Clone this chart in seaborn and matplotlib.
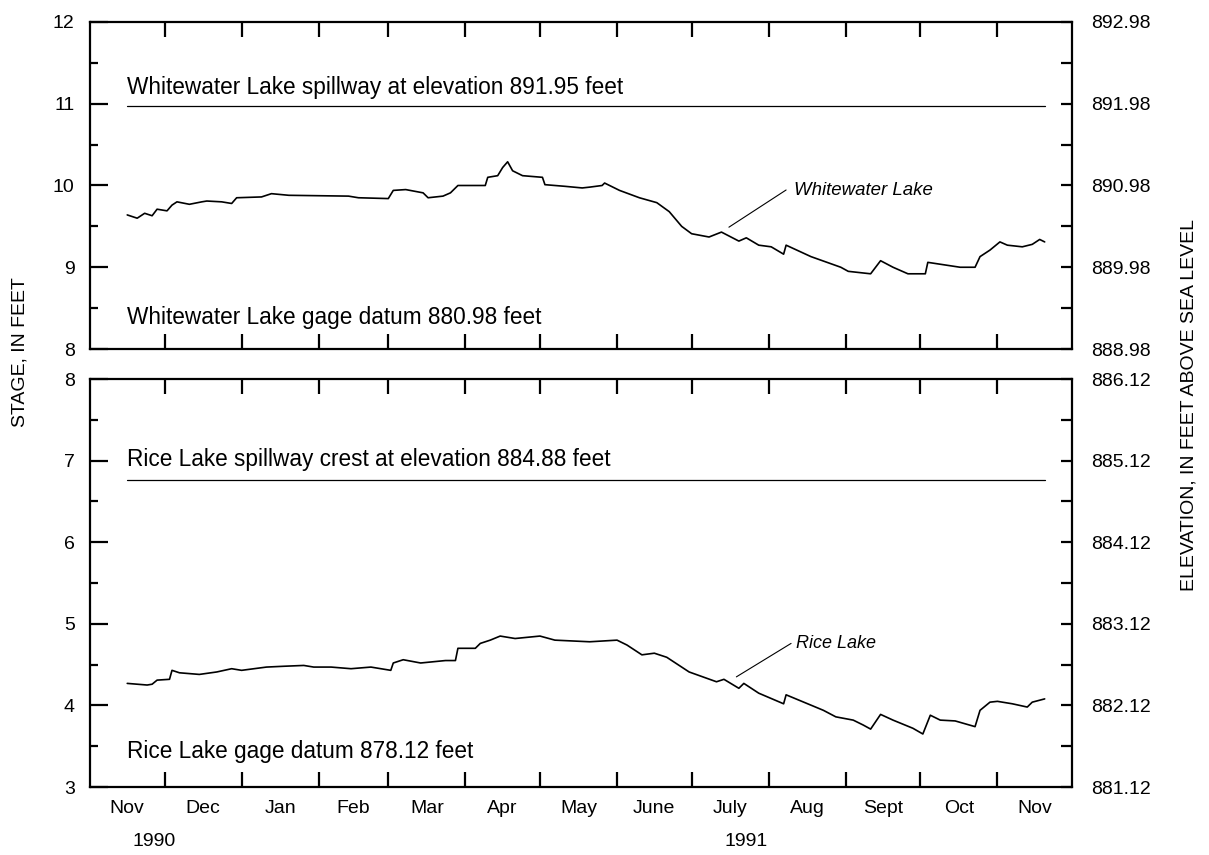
import matplotlib
matplotlib.use("Agg")
import matplotlib.pyplot as plt
import matplotlib.dates as mdates
import matplotlib.ticker as mticker
import numpy as np
import pandas as pd
import seaborn as sns

# ---------------- data ----------------
ww_dates = ["1990-11-16", "1990-11-20", "1990-11-23", "1990-11-26", "1990-11-28", "1990-12-02",
            "1990-12-04", "1990-12-06", "1990-12-11", "1990-12-16", "1990-12-18", "1990-12-24",
            "1990-12-28", "1990-12-30", "1991-01-09", "1991-01-13", "1991-01-20", "1991-02-13",
            "1991-02-17", "1991-03-01", "1991-03-03", "1991-03-08", "1991-03-15", "1991-03-17",
            "1991-03-23", "1991-03-26", "1991-03-29", "1991-04-09", "1991-04-10", "1991-04-14",
            "1991-04-16", "1991-04-18", "1991-04-20", "1991-04-24", "1991-05-02", "1991-05-03",
            "1991-05-11", "1991-05-18", "1991-05-21", "1991-05-26", "1991-05-27", "1991-06-02",
            "1991-06-10", "1991-06-17", "1991-06-22", "1991-06-27", "1991-07-01", "1991-07-08",
            "1991-07-13", "1991-07-20", "1991-07-23", "1991-07-28", "1991-08-02", "1991-08-07",
            "1991-08-08", "1991-08-18", "1991-08-30", "1991-09-02", "1991-09-11", "1991-09-15",
            "1991-09-20", "1991-09-26", "1991-10-03", "1991-10-04", "1991-10-17", "1991-10-23",
            "1991-10-25", "1991-10-29", "1991-11-02", "1991-11-05", "1991-11-11", "1991-11-15",
            "1991-11-18", "1991-11-20"]
ww_stage = [9.64, 9.60, 9.66, 9.63, 9.71, 9.69,
            9.76, 9.80, 9.77, 9.80, 9.81, 9.80,
            9.78, 9.85, 9.86, 9.90, 9.88, 9.87,
            9.85, 9.84, 9.94, 9.95, 9.91, 9.85,
            9.87, 9.91, 10.00, 10.00, 10.10, 10.12,
            10.22, 10.29, 10.18, 10.12, 10.10, 10.01,
            9.99, 9.97, 9.98, 10.00, 10.03, 9.94,
            9.85, 9.79, 9.68, 9.50, 9.41, 9.37,
            9.43, 9.32, 9.36, 9.27, 9.25, 9.16,
            9.27, 9.13, 9.00, 8.95, 8.92, 9.08,
            9.00, 8.92, 8.92, 9.06, 9.00, 9.00,
            9.13, 9.21, 9.31, 9.27, 9.25, 9.28,
            9.34, 9.31]

rice_dates = ["1990-11-16", "1990-11-24", "1990-11-26", "1990-11-28", "1990-12-03", "1990-12-04",
              "1990-12-07", "1990-12-15", "1990-12-22", "1990-12-28", "1991-01-01", "1991-01-11",
              "1991-01-18", "1991-01-26", "1991-01-30", "1991-02-06", "1991-02-14", "1991-02-22",
              "1991-03-02", "1991-03-03", "1991-03-07", "1991-03-14", "1991-03-24", "1991-03-28",
              "1991-03-29", "1991-04-05", "1991-04-07", "1991-04-11", "1991-04-15", "1991-04-21",
              "1991-05-01", "1991-05-07", "1991-05-21", "1991-06-01", "1991-06-05", "1991-06-11",
              "1991-06-16", "1991-06-21", "1991-06-30", "1991-07-11", "1991-07-14", "1991-07-20",
              "1991-07-22", "1991-07-28", "1991-08-07", "1991-08-08", "1991-08-23", "1991-08-28",
              "1991-09-04", "1991-09-08", "1991-09-11", "1991-09-15", "1991-09-20", "1991-09-28",
              "1991-10-02", "1991-10-05", "1991-10-09", "1991-10-15", "1991-10-23", "1991-10-25",
              "1991-10-29", "1991-11-01", "1991-11-07", "1991-11-13", "1991-11-15", "1991-11-20"]
rice_stage = [4.27, 4.25, 4.26, 4.31, 4.32, 4.43,
              4.40, 4.38, 4.41, 4.45, 4.43, 4.47,
              4.48, 4.49, 4.47, 4.47, 4.45, 4.47,
              4.43, 4.52, 4.56, 4.52, 4.55, 4.55,
              4.70, 4.70, 4.76, 4.80, 4.85, 4.82,
              4.85, 4.80, 4.78, 4.80, 4.74, 4.62,
              4.64, 4.59, 4.41, 4.29, 4.32, 4.21,
              4.27, 4.15, 4.02, 4.13, 3.94, 3.86,
              3.82, 3.76, 3.71, 3.89, 3.82, 3.72,
              3.65, 3.88, 3.82, 3.81, 3.74, 3.94,
              4.04, 4.05, 4.02, 3.98, 4.04, 4.08]

month_labels = ["Nov", "Dec", "Jan", "Feb", "Mar", "Apr", "May", "June",
                "July", "Aug", "Sept", "Oct", "Nov"]
year_labels = ["1990", "1991"]

ww_spillway = 10.97     # 891.95 - 880.98
ww_datum = 880.98
rice_spillway = 6.76    # 884.88 - 878.12
rice_datum = 878.12
line_start, line_end = "1990-11-16", "1991-11-20"

ww = pd.DataFrame({"date": pd.to_datetime(ww_dates), "stage": ww_stage})
rice = pd.DataFrame({"date": pd.to_datetime(rice_dates), "stage": rice_stage})

# ---------------- style ----------------
sns.set_theme(style="ticks")
plt.rcParams["font.family"] = ["Liberation Sans", "DejaVu Sans"]
plt.rcParams["axes.linewidth"] = 1.6
FS = 14
FT = 16.3

fig = plt.figure(figsize=(12.09, 8.55), dpi=100)
ax1 = fig.add_axes([0.0744, 0.5918, 0.8123, 0.3825])
ax2 = fig.add_axes([0.0744, 0.0795, 0.8123, 0.4772])

sns.lineplot(data=ww, x="date", y="stage", ax=ax1, color="black", linewidth=1.2)
sns.lineplot(data=rice, x="date", y="stage", ax=ax2, color="black", linewidth=1.2)

xmin, xmax = pd.Timestamp("1990-11-01"), pd.Timestamp("1991-12-01")
month_starts = pd.date_range("1990-11-01", "1991-12-01", freq="MS")
mids = [month_starts[i] + (month_starts[i + 1] - month_starts[i]) / 2 for i in range(len(month_starts) - 1)]

def style(ax, ylim, datum, show_labels):
    ax.set_xlim(xmin, xmax)
    ax.set_ylim(*ylim)
    ax.set_xlabel("")
    ax.set_ylabel("")
    for s in ax.spines.values():
        s.set_visible(True)
        s.set_color("black")
        s.set_linewidth(1.6)
    ax.xaxis.set_major_locator(mticker.FixedLocator(mdates.date2num(month_starts[1:-1])))
    ax.xaxis.set_major_formatter(mticker.NullFormatter())
    ax.xaxis.set_minor_locator(mticker.FixedLocator(mdates.date2num(mids)))
    if show_labels:
        ax.xaxis.set_minor_formatter(mticker.FixedFormatter(month_labels))
    else:
        ax.xaxis.set_minor_formatter(mticker.NullFormatter())
    ax.tick_params(axis="x", which="major", direction="in", length=11, width=1.6,
                   top=True, bottom=True, color="black")
    ax.tick_params(axis="x", which="minor", length=0, labelsize=FS, pad=9, colors="black")
    ax.yaxis.set_major_locator(mticker.MultipleLocator(1))
    ax.yaxis.set_minor_locator(mticker.MultipleLocator(0.5))
    ax.tick_params(axis="y", which="major", direction="in", length=13, width=1.6,
                   labelsize=FS, pad=11, color="black", labelcolor="black")
    ax.tick_params(axis="y", which="minor", direction="in", length=6, width=1.6, color="black")
    ax.grid(False)
    # right elevation axis
    axr = ax.twinx()
    axr.set_ylim(ylim[0] + datum, ylim[1] + datum)
    axr.yaxis.set_major_locator(mticker.FixedLocator(np.arange(ylim[0], ylim[1] + 0.01, 1) + datum))
    axr.yaxis.set_major_formatter(mticker.FormatStrFormatter("%.2f"))
    axr.yaxis.set_minor_locator(mticker.FixedLocator(np.arange(ylim[0] + 0.5, ylim[1], 1) + datum))
    axr.tick_params(axis="y", which="major", direction="in", length=8, width=1.6,
                    labelsize=FS, pad=14, color="black", labelcolor="black")
    axr.tick_params(axis="y", which="minor", direction="in", length=8, width=1.6, color="black")
    for s in axr.spines.values():
        s.set_visible(False)
    axr.grid(False)
    return axr

style(ax1, (8, 12), ww_datum, False)
style(ax2, (3, 8), rice_datum, True)

# spillway lines
ax1.plot(pd.to_datetime([line_start, line_end]), [ww_spillway, ww_spillway], color="black", lw=0.9)
ax2.plot(pd.to_datetime([line_start, line_end]), [rice_spillway, rice_spillway], color="black", lw=0.9)

x0 = pd.Timestamp(line_start)
ax1.text(x0, 11.2, "Whitewater Lake spillway at elevation 891.95 feet", fontsize=FT,
         ha="left", va="center", color="black")
ax1.text(x0, 8.38, "Whitewater Lake gage datum 880.98 feet", fontsize=FT,
         ha="left", va="center", color="black")
ax2.text(x0, 7.01, "Rice Lake spillway crest at elevation 884.88 feet", fontsize=FT,
         ha="left", va="center", color="black")
ax2.text(x0, 3.44, "Rice Lake gage datum 878.12 feet", fontsize=FT,
         ha="left", va="center", color="black")

# leader lines + italic labels
ax1.plot(pd.to_datetime(["1991-07-16", "1991-08-08"]), [9.49, 9.945], color="black", lw=0.8)
ax1.text(pd.Timestamp("1991-08-11"), 9.94, "Whitewater Lake", fontsize=13.4, style="italic",
         ha="left", va="center", color="black")
ax2.plot(pd.to_datetime(["1991-07-19", "1991-08-10"]), [4.35, 4.76], color="black", lw=0.8)
ax2.text(pd.Timestamp("1991-08-12"), 4.76, "Rice Lake", fontsize=13, style="italic",
         ha="left", va="center", color="black")

# year labels
for d, lab in zip(["1990-11-27", "1991-07-23"], year_labels):
    ax2.annotate(lab, xy=(mdates.date2num(pd.Timestamp(d)), 0), xycoords=ax2.get_xaxis_transform(),
                 xytext=(0, -46), textcoords="offset pixels",
                 fontsize=FS, ha="center", va="top", color="black")

fig.text(20 / 1209, 1 - 352 / 855, "STAGE, IN FEET", rotation=90, fontsize=FS,
         ha="center", va="center", color="black")
fig.text(1189 / 1209, 1 - 405 / 855, "ELEVATION, IN FEET ABOVE SEA LEVEL", rotation=90,
         fontsize=FS, ha="center", va="center", color="black")

fig.savefig("out.png", dpi=100)
